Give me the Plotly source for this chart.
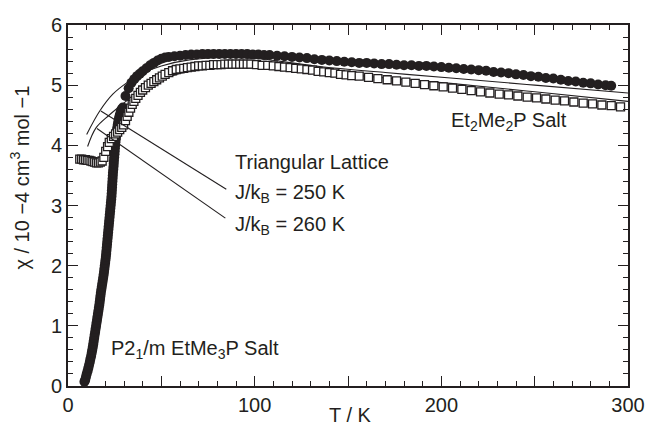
import plotly.graph_objects as go

INK = "#231f20"
FONT = "Liberation Sans, Arial, Helvetica, sans-serif"

# ---- P2_1/m EtMe3P salt (filled circles) ----
circ_T = [8.8, 9.2, 9.6, 10.0, 10.5, 10.9, 11.3, 11.7, 12.0, 12.4, 12.7, 13.0, 13.3, 13.55,
          13.8, 14.05, 14.3, 14.55, 14.8, 15.05, 15.3, 15.55, 15.8, 16.05, 16.3, 16.55, 16.8,
          17.0, 17.2, 17.4, 17.6, 17.85, 18.1, 18.35, 18.6, 18.85, 19.1, 19.3, 19.5, 19.7,
          19.9, 20.1, 20.3, 20.45, 20.6, 20.75, 20.9, 21.05, 21.2, 21.35, 21.5, 21.65, 21.8,
          21.95, 22.1, 22.25, 22.4, 22.55, 22.7, 22.85, 23.0, 23.15, 23.3, 23.4, 23.5, 23.6,
          23.7, 23.8, 23.9, 24.0, 24.1, 24.25, 24.4, 24.5, 24.6, 24.75, 24.9, 25.0, 25.1,
          25.25, 25.4, 25.6, 25.8, 26.0, 26.2, 26.45, 26.7, 27.0, 27.3, 27.7, 28.2, 28.7, 29.4,
          30.8, 32.5, 34, 35.5, 37, 38.5, 40, 42, 44, 46, 48, 50, 52, 54, 57, 60, 63, 66, 69,
          72, 75, 78, 81, 84, 87, 90, 93, 96, 99, 102, 105, 108, 112, 116, 120, 124, 128, 132,
          136, 140, 144, 148, 152, 156, 160, 164, 168, 172, 176, 180, 184, 188, 192, 196, 200,
          204, 208, 212, 216, 220, 224, 228, 232, 236, 240, 244, 248, 252, 256, 260, 264, 268,
          272, 276, 280, 284, 288, 291]
circ_chi = [0.07, 0.10, 0.15, 0.20, 0.25, 0.30, 0.35, 0.40, 0.45, 0.50, 0.55, 0.60, 0.65, 0.70,
            0.75, 0.80, 0.85, 0.90, 0.95, 1.00, 1.05, 1.10, 1.15, 1.20, 1.25, 1.30, 1.35,
            1.40, 1.45, 1.50, 1.55, 1.60, 1.65, 1.70, 1.75, 1.80, 1.85, 1.90, 1.95, 2.00,
            2.05, 2.10, 2.15, 2.20, 2.25, 2.30, 2.35, 2.40, 2.45, 2.50, 2.55, 2.60, 2.65,
            2.70, 2.75, 2.80, 2.85, 2.90, 2.95, 3.00, 3.05, 3.10, 3.15, 3.20, 3.25, 3.30,
            3.35, 3.40, 3.45, 3.50, 3.55, 3.60, 3.65, 3.70, 3.75, 3.80, 3.85, 3.90, 3.95,
            4.00, 4.05, 4.10, 4.15, 4.20, 4.25, 4.30, 4.35, 4.40, 4.45, 4.50, 4.55, 4.60, 4.63,
            4.82, 4.95, 5.04, 5.10, 5.15, 5.19, 5.23, 5.28, 5.33, 5.37, 5.41, 5.44, 5.46, 5.47,
            5.48, 5.49, 5.50, 5.51, 5.51, 5.52, 5.52, 5.52, 5.52, 5.52, 5.52, 5.52, 5.52, 5.52,
            5.51, 5.51, 5.50, 5.50, 5.49, 5.48, 5.47, 5.46, 5.45, 5.43, 5.42, 5.41, 5.40, 5.39,
            5.38, 5.37, 5.37, 5.36, 5.35, 5.35, 5.34, 5.33, 5.33, 5.32, 5.32, 5.31, 5.30, 5.29,
            5.28, 5.27, 5.26, 5.25, 5.24, 5.22, 5.21, 5.20, 5.18, 5.17, 5.15, 5.14, 5.12, 5.11,
            5.09, 5.07, 5.06, 5.04, 5.03, 5.01, 5.00, 4.99]

# ---- Et2Me2P salt (open squares) ----
sq_T = [6.3, 7.3, 8.3, 9.3, 10.3, 11.3, 12.3, 13.3, 14.3, 15.3, 16.3, 17.3, 18.3, 19.2, 20.2,
        21.2, 22.1, 23.2, 24.4, 25.5, 26.6, 27.7, 28.8, 29.8, 30.8, 31.7, 32.6, 33.5, 34.4,
        35.3, 36.3, 37.5, 38.8, 40, 41.5, 43, 44.5, 46, 47.5, 49, 50.5, 52, 54, 56, 58, 60,
        62, 64, 66, 68, 70, 72, 74, 76, 78, 80, 82, 84, 86, 88, 90, 92, 94, 96, 98, 101, 104,
        107, 110, 113, 116, 119, 122, 125, 128, 131, 134, 137, 140, 143, 146, 149, 152, 156,
        161, 166, 171, 176, 181, 186, 191, 196, 201, 206, 211, 216, 221, 226, 231, 236, 241,
        246, 251, 256, 261, 266, 271, 276, 281, 286, 291, 296, 300.5]
sq_chi = [3.77, 3.77, 3.76, 3.76, 3.75, 3.75, 3.74, 3.73, 3.72, 3.71, 3.71, 3.72, 3.74, 3.80,
          3.90, 3.98, 4.05, 4.11, 4.15, 4.19, 4.22, 4.26, 4.30, 4.34, 4.41, 4.48, 4.55, 4.62,
          4.68, 4.73, 4.78, 4.83, 4.88, 4.92, 4.96, 5.00, 5.03, 5.06, 5.09, 5.12, 5.15, 5.18,
          5.21, 5.24, 5.26, 5.27, 5.28, 5.29, 5.30, 5.31, 5.32, 5.32, 5.33, 5.33, 5.34, 5.34,
          5.34, 5.35, 5.35, 5.35, 5.35, 5.35, 5.35, 5.35, 5.35, 5.34, 5.33, 5.33, 5.32, 5.31,
          5.30, 5.29, 5.28, 5.27, 5.26, 5.25, 5.23, 5.22, 5.21, 5.20, 5.18, 5.17, 5.16, 5.15,
          5.13, 5.11, 5.09, 5.07, 5.05, 5.03, 5.01, 4.99, 4.97, 4.95, 4.93, 4.91, 4.89, 4.87,
          4.85, 4.84, 4.82, 4.80, 4.79, 4.77, 4.75, 4.74, 4.72, 4.70, 4.69, 4.67, 4.66, 4.64,
          4.63]

# ---- Triangular lattice model curves ----
tri250_T = [10, 17, 24, 32, 40, 50, 65, 85, 105, 120, 135, 170, 205, 250, 300]
tri250_chi = [4.18, 4.57, 4.85, 5.05, 5.20, 5.32, 5.42, 5.46, 5.43, 5.37, 5.31, 5.21, 5.12, 5.00, 4.87]
tri260_T = [10.5, 15, 22, 29, 36, 45, 55, 70, 90, 110, 135, 170, 205, 250, 300]
tri260_chi = [3.98, 4.29, 4.50, 4.68, 4.85, 5.03, 5.15, 5.27, 5.31, 5.29, 5.22, 5.12, 5.03, 4.89, 4.73]

x_ticks = [0, 50, 100, 150, 200, 250, 300]
x_labels = ["0", "", "100", "", "200", "", "300"]
y_ticks = [0, 1, 2, 3, 4, 5, 6]

fig = go.Figure()
for T, c in ((tri250_T, tri250_chi), (tri260_T, tri260_chi)):
    fig.add_trace(go.Scatter(x=T, y=c, mode="lines", line=dict(color=INK, width=1.1, shape="spline"),
                             hoverinfo="skip", showlegend=False))
fig.add_trace(go.Scatter(x=circ_T, y=circ_chi, mode="markers", cliponaxis=False,
                         marker=dict(symbol="circle", size=10, color=INK, line=dict(width=0)),
                         showlegend=False))
fig.add_trace(go.Scatter(x=sq_T, y=sq_chi, mode="markers", cliponaxis=False,
                         marker=dict(symbol="square", size=8, color="white",
                                     line=dict(color=INK, width=1.3)),
                         showlegend=False))

# leader lines
fig.add_shape(type="line", x0=17.6, y0=4.57, x1=84.8, y1=3.27, line=dict(color=INK, width=1.1))
fig.add_shape(type="line", x0=15.5, y0=4.28, x1=84.3, y1=2.79, line=dict(color=INK, width=1.1))

tf = dict(family=FONT, size=20, color=INK)
ann = [
    dict(x=88.5, y=3.72, text="Triangular Lattice", xanchor="left", yanchor="middle"),
    dict(x=88.5, y=3.20, text="J/k<sub>B</sub> = 250 K", xanchor="left", yanchor="middle"),
    dict(x=88.5, y=2.67, text="J/k<sub>B</sub> = 260 K", xanchor="left", yanchor="middle"),
    dict(x=204, y=4.40, text="Et<sub>2</sub>Me<sub>2</sub>P Salt", xanchor="left", yanchor="middle"),
    dict(x=22, y=0.61, text="P2<sub>1</sub>/m EtMe<sub>3</sub>P Salt", xanchor="left", yanchor="middle"),
]
for a in ann:
    fig.add_annotation(**a, xref="x", yref="y", showarrow=False, font=tf)

fig.add_annotation(x=-0.086, y=0.577, xref="paper", yref="paper", text="χ / 10 −4 cm<sup>3</sup> mol −1",
                   textangle=-90, showarrow=False, font=tf, xanchor="center", yanchor="middle")
fig.add_annotation(x=0.504, y=-0.081, xref="paper", yref="paper", text="T / K",
                   showarrow=False, font=tf, xanchor="center", yanchor="middle")

axis_common = dict(showline=True, linecolor=INK, linewidth=1.6, mirror="allticks",
                   ticks="inside", ticklen=10, tickwidth=1.3, tickcolor=INK,
                   showgrid=False, zeroline=False, tickfont=tf, ticklabeloverflow="allow")
fig.update_xaxes(range=[0, 300], tickvals=x_ticks, ticktext=x_labels,
                 minor=dict(dtick=10, ticks="inside", ticklen=5, tickwidth=1.1, tickcolor=INK, showgrid=False),
                 **axis_common)
fig.update_yaxes(range=[0, 6], tickvals=y_ticks,
                 minor=dict(dtick=0.2, ticks="inside", ticklen=5, tickwidth=1.1, tickcolor=INK, showgrid=False),
                 **axis_common)

fig.update_layout(width=657, height=428, margin=dict(l=68, r=16, t=25, b=41),
                  paper_bgcolor="white", plot_bgcolor="white", font=tf)
fig.write_html("out.html")
